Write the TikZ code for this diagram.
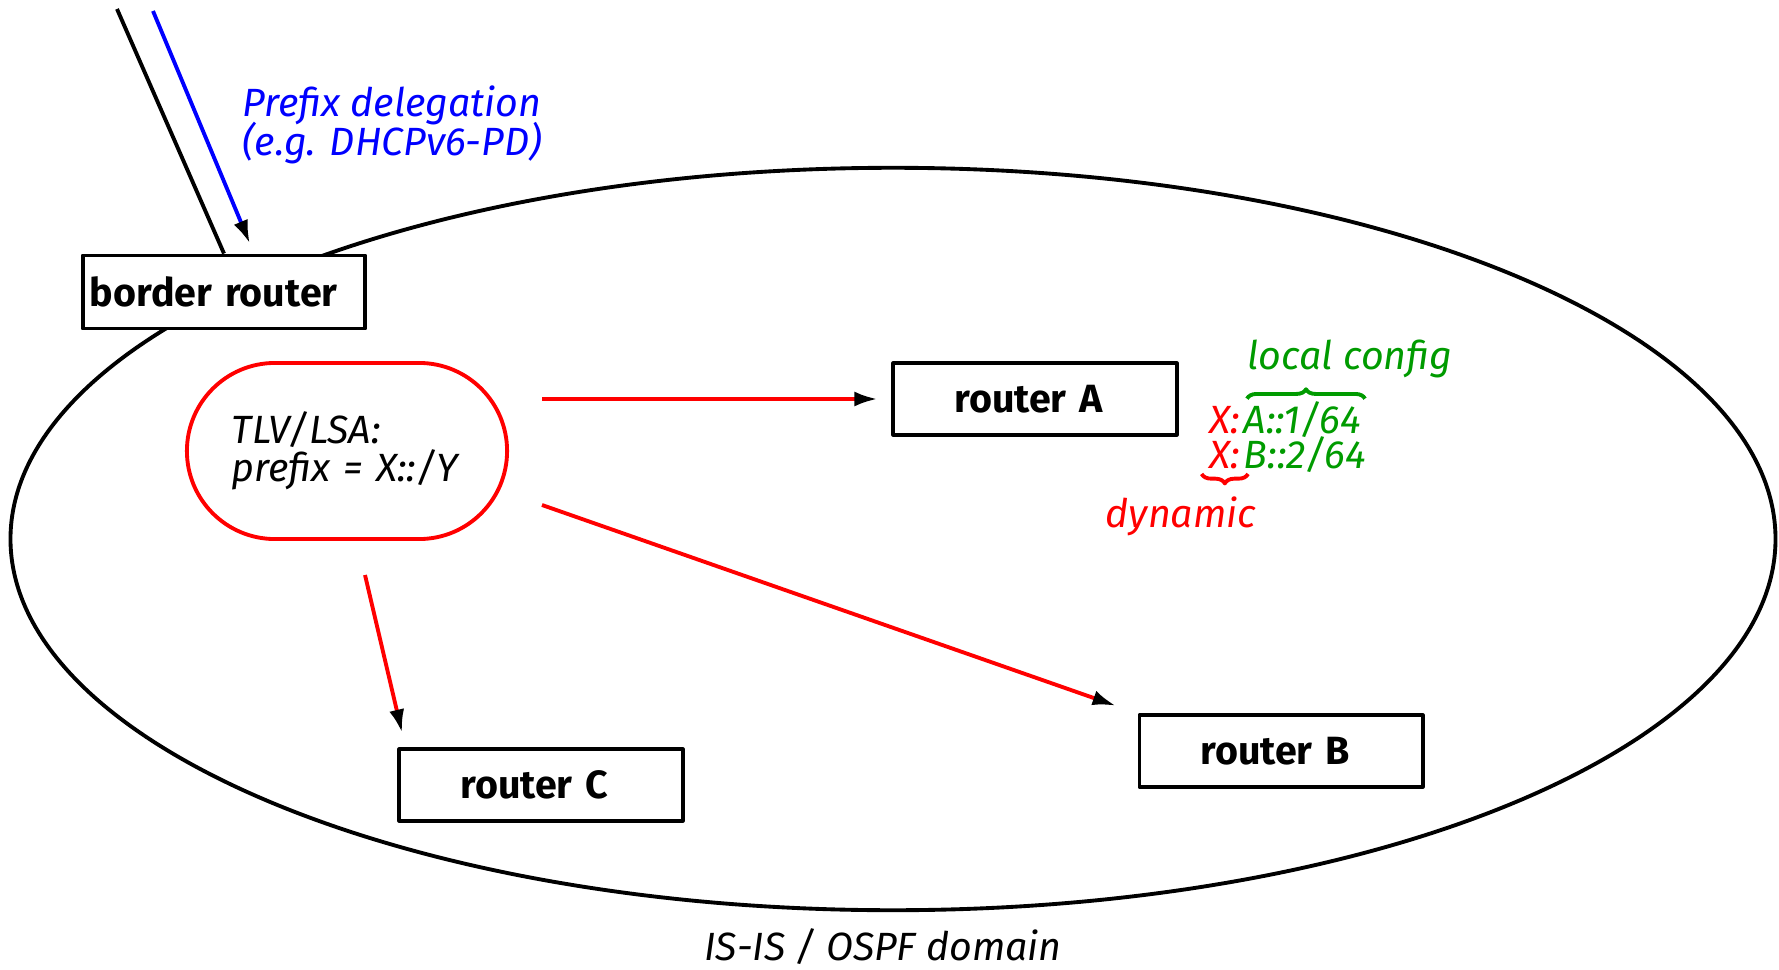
\documentclass[tikz,border=0pt]{standalone}
\usepackage{fontspec}
\setmainfont{Fira Sans}
\usetikzlibrary{arrows.meta,decorations.pathreplacing}
\definecolor{pdblue}{RGB}{0,0,255}
\definecolor{dynred}{RGB}{255,0,0}
\definecolor{cfggreen}{RGB}{0,155,0}
\newcommand{\figfont}{\fontsize{11.2pt}{10.9pt}\selectfont\lineskiplimit=-20pt}
\begin{document}
\begin{tikzpicture}[x=0.01cm,y=-0.01cm,line width=1.1pt,line join=round,
    every node/.style={font=\figfont},
    >={Latex[black,length=6.6pt,width=4.3pt]},
    router/.style={draw,fill=white,minimum height=0.715cm,inner xsep=0.61cm,
      text width=1.61cm,align=left,font=\figfont\bfseries},
    lbl/.style={font=\figfont\itshape},
    addr/.style={inner xsep=0pt,inner ysep=1pt,font=\figfont\itshape},
    flow/.style={->,dynred},
    cbrace/.style={decorate,decoration={brace,amplitude=2.7pt}}]
  \useasboundingbox (0,0) rectangle (1779,970);
  % routing domain
  \draw (893,539) ellipse [x radius=8.82cm, y radius=3.71cm];
  \node[lbl] (dom) at (883,947) {IS-IS / OSPF domain};

  \node[router,text width=2.68cm,inner xsep=0.07cm,minimum height=0.73cm] (border) at (224,292) {border router};
  \node[router] (A) at (1035,399) {router A};
  \node[router] (B) at (1281,751) {router B};
  \node[router] (C) at (541,785) {router C};
  \node[draw=dynred,fill=white,rounded corners=0.88cm,minimum height=1.76cm,
    inner xsep=0.45cm,text width=2.3cm,align=left,lbl] (tlv) at (347,451) {TLV/LSA:\\prefix = X::/Y};

  % uplink + prefix delegation
  \coordinate (upl) at (117,9);
  \coordinate (pdsrc) at (153,11);
  \draw (upl) -- (border.north);
  \draw[->,pdblue,shorten >=0.11cm] (pdsrc) -- ([xshift=0.3cm]border.north);
  \node[lbl,pdblue,align=center] (pd) at (392,125) {Prefix delegation\\(e.g. DHCPv6-PD)};

  % flooding
  \coordinate (outA) at (542,399);
  \coordinate (outB) at (542,505);
  \coordinate (outC) at (365,575);
  \draw[flow,shorten >=0.14cm] (outA) -- (A.west);
  \draw[flow,shorten >=0.23cm] (outB) -- (B.north west);
  \draw[flow,shorten >=0.15cm] (outC) -- ([xshift=0.08cm]C.north west);

  % addresses
  \node[addr,dynred,anchor=base east] (xa) at (1242,433) {X:};
  \node[addr,cfggreen,anchor=base west] (ra) at (1242,433) {A::1/64};
  \node[addr,dynred,anchor=base east] (xb) at (1242,468) {X:};
  \node[addr,cfggreen,anchor=base west] (rb) at (1242,468) {B::2/64};
  \draw[cfggreen,cbrace] ([xshift=0.05cm,yshift=-0.03cm]ra.north west) -- ([xshift=0.02cm,yshift=-0.03cm]ra.north east);
  \draw[dynred,cbrace] ([xshift=0.06cm]xb.south east) -- ([xshift=-0.06cm]xb.south west);
  \node[lbl,cfggreen] (cfg) at (1350,359) {local config};
  \node[lbl,dynred] (dyn) at (1181,516) {dynamic};
\end{tikzpicture}
\end{document}
